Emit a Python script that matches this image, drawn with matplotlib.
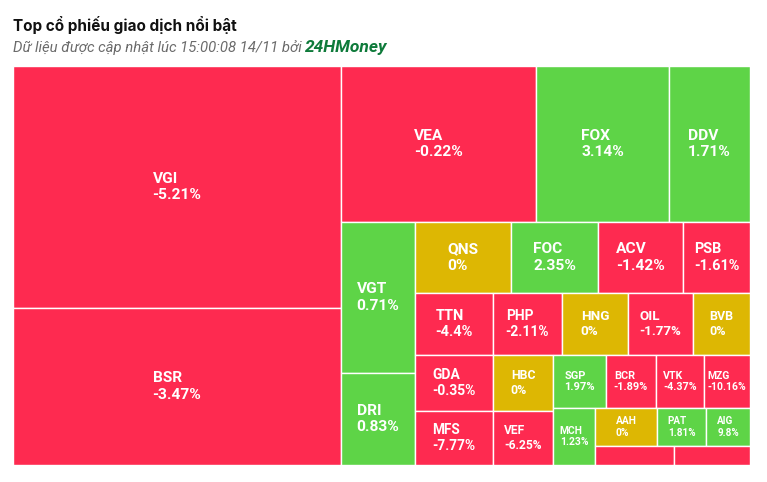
import matplotlib
matplotlib.use("Agg")
import matplotlib.pyplot as plt
from matplotlib.patches import Rectangle
import numpy as np

# ---------------- data ----------------
tickers = ["VGI", "BSR", "VEA", "FOX", "DDV", "VGT", "DRI", "QNS", "FOC", "ACV", "PSB",
           "TTN", "PHP", "HNG", "OIL", "BVB", "GDA", "MFS", "HBC", "VEF",
           "SGP", "BCR", "VTK", "MZG", "MCH", "AAH", "PAT", "AIG", "", ""]
changes = [-5.21, -3.47, -0.22, 3.14, 1.71, 0.71, 0.83, 0, 2.35, -1.42, -1.61,
           -4.4, -2.11, 0, -1.77, 0, -0.35, -7.77, 0, -6.25,
           1.97, -1.89, -4.37, -10.16, 1.23, 0, 1.81, 9.8, -1.0, -1.0]
values = [79376, 51496, 30420, 20748, 12636, 11174, 6808, 6816, 6177, 6035, 4757,
          4836, 4278, 4092, 4030, 3534, 4368, 4212, 3360, 3240,
          2809, 2650, 2544, 2438, 2394, 2356, 1862, 1672, 1501, 1444]
change_labels = ["-5.21%", "-3.47%", "-0.22%", "3.14%", "1.71%", "0.71%", "0.83%", "0%", "2.35%",
                 "-1.42%", "-1.61%", "-4.4%", "-2.11%", "0%", "-1.77%", "0%", "-0.35%", "-7.77%",
                 "0%", "-6.25%", "1.97%", "-1.89%", "-4.37%", "-10.16%", "1.23%", "0%", "1.81%",
                 "9.8%", "", ""]

# layout rows of the treemap: (orientation, number of tiles)
rows = [("v", 2), ("h", 3), ("v", 2), ("h", 4), ("h", 5), ("v", 2), ("v", 2),
        ("h", 4), ("v", 1), ("h", 3), ("h", 2)]

title = "Top cổ phiếu giao dịch nổi bật"
subtitle = "Dữ liệu được cập nhật lúc 15:00:08 14/11 bởi "
brand = "24HMoney"

RED, GREEN, YELLOW = "#FE2A50", "#5ED447", "#DDB703"

W, H = 767, 482
fig = plt.figure(figsize=(W / 100, H / 100), dpi=100)
fig.patch.set_facecolor("white")

AW, AH = 737, 399
ax = fig.add_axes([13 / W, (H - 465) / H, AW / W, AH / H])
ax.set_xlim(0, AW)
ax.set_ylim(AH, 0)
ax.axis("off")

# slice-and-dice rows
x0, y0, x1, y1 = 0.0, 0.0, float(AW), float(AH)
remaining = float(sum(values))
i = 0
rects = []
for orient, n in rows:
    vals = values[i:i + n]
    s = float(sum(vals))
    if orient == "v":
        w = (x1 - x0) * s / remaining
        yy = y0
        for v in vals:
            h = (y1 - y0) * v / s
            rects.append((x0, yy, w, h))
            yy += h
        x0 += w
    else:
        h = (y1 - y0) * s / remaining
        xx = x0
        for v in vals:
            w = (x1 - x0) * v / s
            rects.append((xx, y0, w, h))
            xx += w
        y0 += h
    remaining -= s
    i += n

for (x, y, w, h), name, ch, lab in zip(rects, tickers, changes, change_labels):
    col = GREEN if ch > 0 else (YELLOW if ch == 0 else RED)
    ax.add_patch(Rectangle((x, y), w, h, facecolor=col, edgecolor="white", lw=1.0))
    if name:
        cap = float(np.clip(np.sqrt(w * h) * 0.15, 7.0, 11.0))
        fs = cap / 0.711 * 0.72
        ax.text(x + w / 2, y + h / 2, f"{name}\n{lab}", ha="center", va="center",
                multialignment="left", color="white", fontsize=fs, fontweight="bold",
                family=["Roboto", "DejaVu Sans"], linespacing=1.2)

fig.text(13 / W, 1 - 31 / H, title, fontsize=11, fontweight="bold", color="#111111",
         family=["Inter", "DejaVu Sans"], va="baseline", ha="left")
t1 = fig.text(13 / W, 1 - 52 / H, subtitle, fontsize=10.7, style="italic", color="#6b6b6b",
              family=["Roboto", "DejaVu Sans"], va="baseline", ha="left")
ax.annotate(brand, xy=(1, 0), xycoords=t1, va="bottom", ha="left", fontsize=12.5,
            fontweight="bold", style="italic", color="#0E7A3A",
            family=["Roboto", "DejaVu Sans"], annotation_clip=False)

fig.savefig("out.png", dpi=100, facecolor="white")
